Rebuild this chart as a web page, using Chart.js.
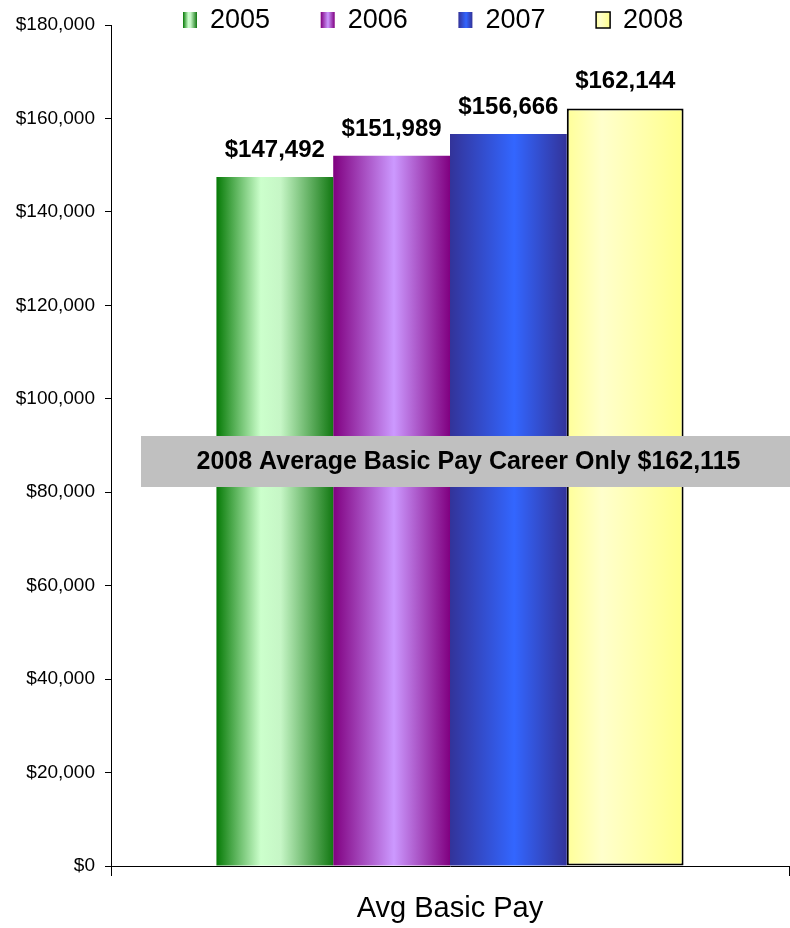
<!DOCTYPE html>
<html>
<head>
<meta charset="utf-8">
<script src="https://cdn.jsdelivr.net/npm/chart.js@4/dist/chart.umd.min.js"></script>
<style>
  html, body { margin: 0; padding: 0; background: #fff; }
  #wrap { width: 790px; height: 928px; position: relative; }
</style>
</head>
<body>
<div id="wrap"><canvas id="pay-chart"></canvas></div>
<script>
const categories = ['Avg Basic Pay'];
const years = ['2005', '2006', '2007', '2008'];
const avgBasicPay = [147492, 151989, 156666, 162144];
const noteText = '2008 Average Basic Pay Career Only $162,115';

const FONT = 'Arial, "Liberation Sans", sans-serif';
const CAT_PCT = 0.689;

// horizontal gradient stops for each year
const fills = [
  [[0, '#067a06'], [0.38, '#ccffcc'], [0.55, '#c6f6c6'], [1, '#127812']],
  [[0, '#800080'], [0.52, '#cc99ff'], [1, '#800080']],
  [[0, '#333399'], [0.55, '#3366ff'], [1, '#333399']],
  [[0, '#ffff99'], [0.3, '#ffffcc'], [1, '#ffff8c']]
];

function makeGradient(ctx, x0, x1, stops) {
  const g = ctx.createLinearGradient(x0, 0, x1, 0);
  stops.forEach(s => g.addColorStop(s[0], s[1]));
  return g;
}

function barFill(i) {
  return function(context) {
    const chart = context.chart;
    const area = chart.chartArea;
    if (!area) return fills[i][1][1];
    const groupW = area.width * CAT_PCT;
    const bw = groupW / years.length;
    const left = (area.left + area.right) / 2 - groupW / 2 + i * bw;
    return makeGradient(chart.ctx, left, left + bw, fills[i]);
  };
}

const extras = {
  id: 'extras',
  afterDatasetsDraw(chart) {
    const ctx = chart.ctx;
    ctx.save();
    ctx.font = 'bold 24px ' + FONT;
    ctx.fillStyle = '#000';
    ctx.textAlign = 'center';
    ctx.textBaseline = 'alphabetic';
    chart.data.datasets.forEach((ds, i) => {
      const bar = chart.getDatasetMeta(i).data[0];
      ctx.fillText('$' + ds.data[0].toLocaleString('en-US'), bar.x, bar.y - 20);
    });
    ctx.restore();
  },
  afterDraw(chart) {
    const ctx = chart.ctx;
    const area = chart.chartArea;
    ctx.save();
    // note box
    const bx = area.left + 30, by = 436, bw = chart.width - bx, bh = 51;
    ctx.fillStyle = '#c0c0c0';
    ctx.fillRect(bx, by, bw, bh);
    ctx.font = 'bold 25px ' + FONT;
    ctx.fillStyle = '#000';
    ctx.textAlign = 'center';
    ctx.textBaseline = 'middle';
    ctx.fillText(noteText, bx + bw / 2 + 3, by + bh / 2 + 1);

    // legend
    ctx.font = '27px ' + FONT;
    ctx.textAlign = 'left';
    years.forEach((y, i) => {
      const x = 183 + i * 137.7;
      ctx.fillStyle = makeGradient(ctx, x, x + 14, fills[i]);
      ctx.fillRect(x, 12, 14, 16);
      if (i === 3) {
        ctx.strokeStyle = '#000';
        ctx.lineWidth = 1.5;
        ctx.strokeRect(x, 12, 14, 16);
      }
      ctx.fillStyle = '#000';
      ctx.fillText(y, x + 27, 21);
    });
    ctx.restore();
  }
};

new Chart(document.getElementById('pay-chart'), {
  type: 'bar',
  data: {
    labels: categories,
    datasets: years.map((y, i) => ({
      label: y,
      data: [avgBasicPay[i]],
      backgroundColor: barFill(i),
      borderColor: '#000',
      borderWidth: i === 3 ? 2 : 0,
      borderSkipped: false,
      categoryPercentage: CAT_PCT,
      barPercentage: 1
    }))
  },
  options: {
    responsive: true,
    maintainAspectRatio: false,
    animation: false,
    layout: { padding: { top: 25, right: 1, left: 0, bottom: 0 } },
    plugins: {
      legend: { display: false },
      tooltip: { enabled: false }
    },
    scales: {
      x: {
        grid: { display: true, drawOnChartArea: false, offset: true, color: '#000', tickLength: 10 },
        border: { color: '#000', width: 1 },
        ticks: { color: '#000', font: { family: FONT, size: 29 }, padding: 16 },
        afterFit: s => { s.height = 62; }
      },
      y: {
        min: 0,
        max: 180000,
        grid: { drawOnChartArea: false, color: '#000', tickLength: 6 },
        border: { color: '#000', width: 1 },
        ticks: {
          stepSize: 20000,
          color: '#000',
          padding: 10,
          font: { family: FONT, size: 19 },
          callback: v => '$' + v.toLocaleString('en-US')
        },
        afterFit: s => { s.width = 111; }
      }
    }
  },
  plugins: [extras]
});
</script>
</body>
</html>
